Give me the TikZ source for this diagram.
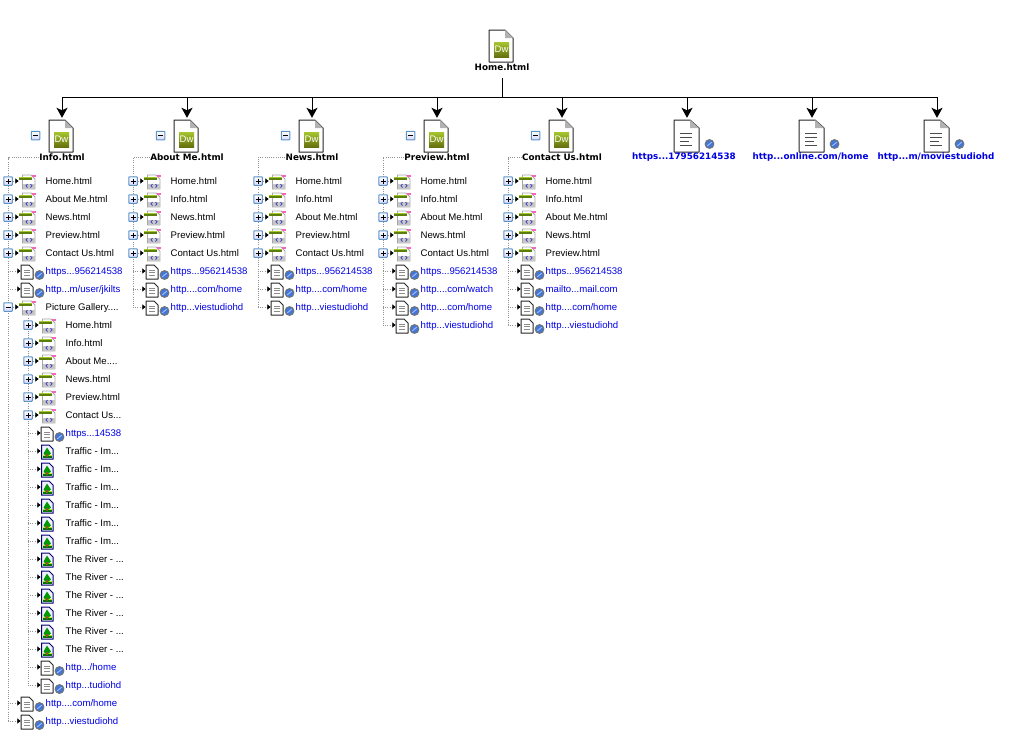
\documentclass[tikz,border=0pt]{standalone}
\usepackage{fontspec}
\setmainfont{Liberation Sans}
\newfontfamily\titlefont{DejaVu Sans}
\usetikzlibrary{arrows.meta, positioning}

\definecolor{linkblue}{HTML}{0000E6}
\definecolor{boxblue}{HTML}{5C94C8}
\definecolor{dwlight}{HTML}{A6C62E}
\definecolor{dwdark}{HTML}{66700E}
\definecolor{globeblue}{HTML}{3F78D8}

\tikzset{
  link/.style={draw=black, line width=1pt, -{Stealth[length=10pt,width=11pt,inset=2.5pt]}},
  stem/.style={draw=black, line width=1pt},
  treeline/.style={draw=gray!85, line width=0.9pt, dash pattern=on 1pt off 1.2pt},
  stub/.style={treeline, -{Latex[length=3.5pt,width=6pt,black]}},
  treebox/.style={draw=boxblue, line width=1pt, rounded corners=0.6pt, top color=white, bottom color=blue!15, inner sep=0pt, minimum size=8.5pt},
  bigpage/.style={inner sep=0pt, minimum width=25pt, minimum height=36pt},
  smallpage/.style={inner sep=0pt, minimum width=12pt, minimum height=14pt},
  pagetitle/.style={inner sep=0pt, font=\titlefont\bfseries\fontsize{8.8}{11}\selectfont},
  webtitle/.style={pagetitle, text=linkblue},
  rowlabel/.style={anchor=base west, inner sep=0pt, font=\fontsize{9.6}{12}\selectfont},
  weblabel/.style={rowlabel, text=linkblue},
  sheet/.style={draw=black!85, line width=1pt, fill=white, line join=round},
  % Icons
  treeplus/.pic={\draw[black, line width=1pt] (-2.5,0) -- (2.5,0) (0,-2.5) -- (0,2.5);},
  treeminus/.pic={\draw[black, line width=1pt] (-2.5,0) -- (2.5,0);},
  globe/.pic={
    \draw[draw=black!55, fill=globeblue, line width=1pt] (0,0) circle (4.4);
    \draw[white!75!blue, line width=0.8pt] (-2.2,1.8) .. controls (-0.5,0.5) and (0.5,-0.5) .. (2.2,-1.8);
  },
  dwicon/.pic={
    \draw[sheet] (-13,-16) -- (3,-16) -- (11,-8) -- (11,16) -- (-13,16) -- cycle;
    \fill[black!30] (3,-16) -- (3,-8) -- (11,-8) -- cycle;
    \shade[top color=dwlight, bottom color=dwdark] (-8,-4) rectangle (7,11);
    \node[text=white, inner sep=0pt, font=\fontsize{9.5}{10}\selectfont] (-dw) at (-0.5,3.5) {Dw};
  },
  webicon/.pic={
    \draw[sheet] (-13,-16) -- (3,-16) -- (12,-8) -- (12,16) -- (-13,16) -- cycle;
    \fill[black!30] (3,-16) -- (3,-8) -- (12,-8) -- cycle;
    \draw[black!70, line width=0.9pt] (-7,-3) -- (5,-3) (-7,1) -- (5,1) (-7,5) -- (2,5) (-7,9) -- (5,9);
  },
  htmlicon/.pic={
    \draw[black!35, line width=0.9pt, fill=white] (-3.5,-6) -- (5,-6) -- (9,-2) -- (9,8) -- (-3.5,8) -- cycle;
    \fill[black!22] (-3,2.5) rectangle (8.5,7.5);
    \fill[magenta!60] (6,-6.5) rectangle (9.5,-4);
    \draw[blue!50!gray, line width=0.8pt] (1.5,3) -- (0,4.8) -- (1.5,6.5) (4.5,3) -- (6,4.8) -- (4.5,6.5);
    \fill[dwdark!90!green] (-7,-4.5) rectangle (6,-1.4);
    \fill[dwlight] (-7,-4.5) rectangle (6,-3.3);
  },
  pageicon/.pic={
    \draw[sheet] (-6,-6) -- (2,-6) -- (6,-2) -- (6,8) -- (-6,8) -- cycle;
    \draw[black!45, line width=0.8pt] (-3,-1) -- (3,-1) (-3,1.5) -- (3,1.5) (-3,4) -- (3,4);
  },
  imageicon/.pic={
    \draw[blue!45!black, line width=1pt, fill=blue!6] (-5.5,-6) -- (2,-6) -- (6,-2) -- (6,8) -- (-5.5,8) -- cycle;
    \fill[yellow!80!green] (-4.5,3.5) rectangle (5,7);
    \fill[green!60!black] (-3.5,2.5) -- (0,-3.5) -- (4,2.5) -- (1.5,4.5) -- (-1.5,4.5) -- cycle;
    \fill[green!45!black] (-4.5,7) -- (5,7) -- (5,5) -- (-4.5,5) -- cycle;
    \fill[brown!70!black] (-1,3) rectangle (1,6);
  },
}

% big pages of the top level
\newcommand{\dwpage}[5]{
  \node[bigpage] (#1) at (#2,#3) {};
  \pic (#1i) at (#1) {dwicon};
  \node[pagetitle] (#1t) at (#4,#3+21.5) {#5};
}
\newcommand{\webpage}[5]{
  \node[bigpage] (#1) at (#2,#3) {};
  \pic (#1i) at (#1) {webicon};
  \pic (#1g) at (#2+22.5,#3+8) {globe};
  \node[webtitle] (#1t) at (#4,#3+21.5) {#5};
}
% tree rows: name, trunk x, row y, label
\newcommand{\htmlrow}[5][treeplus]{
  \node[treebox] (#2b) at (#3,#4) {};
  \pic (#2s) at (#2b) {#1};
  \node[smallpage] (#2) at (#3+17,#4) {};
  \draw[stub] (#2b) -- (#2);
  \pic (#2i) at (#3+18,#4) {htmlicon};
  \node[rowlabel] (#2l) at (#3+37.5,#4+3.8) {#5};
}
\newcommand{\webrow}[4]{
  \coordinate (#1c) at (#2,#3);
  \node[smallpage] (#1) at (#2+19,#3) {};
  \draw[stub] (#1c) -- (#1);
  \pic (#1i) at (#1) {pageicon};
  \pic (#1g) at (#2+31.5,#3+4) {globe};
  \node[weblabel] (#1l) at (#2+37.5,#3+3.8) {#4};
}
\newcommand{\imagerow}[4]{
  \coordinate (#1c) at (#2,#3);
  \node[smallpage] (#1) at (#2+19,#3) {};
  \draw[stub] (#1c) -- (#1);
  \pic (#1i) at (#1) {imageicon};
  \node[rowlabel] (#1l) at (#2+37.5,#3+3.8) {#4};
}

\begin{document}
\begin{tikzpicture}[x=1pt,y=-1pt]
   \useasboundingbox (0,0) rectangle (1024,740);

   % Top level
      \node[bigpage] (home) at (502,46) {};
      \pic (homei) at (home) {dwicon};
      \node[pagetitle] (homet) at (502,67.5) {Home.html};
      \coordinate (hub) at (502,97);
      \dwpage{info}{62}{136}{62}{Info.html}
      \dwpage{about}{187}{136}{187}{About Me.html}
      \dwpage{news}{312}{136}{312}{News.html}
      \dwpage{prev}{437}{136}{437}{Preview.html}
      \dwpage{cont}{562}{136}{562}{Contact Us.html}
      \webpage{tw}{687}{136}{684}{https...17956214538}
      \webpage{on}{812}{136}{810.5}{http...online.com/home}
      \webpage{mv}{937}{136}{936}{http...m/moviestudiohd}

   % Paths
      \draw[stem, shorten <=7pt] (homet.south -| hub) -- (hub);
      \draw[stem] (info |- hub) -- (mv |- hub);
      \draw[link] (info |- hub) -- (info);
      \draw[link] (about |- hub) -- (about);
      \draw[link] (news |- hub) -- (news);
      \draw[link] (prev |- hub) -- (prev);
      \draw[link] (cont |- hub) -- (cont);
      \draw[link] (tw |- hub) -- (tw);
      \draw[link] (on |- hub) -- (on);
      \draw[link] (mv |- hub) -- (mv);

   % Trunks
      \coordinate (infoend) at (8,721);
      \coordinate (aboutend) at (133,307);
      \coordinate (newsend) at (258,307);
      \coordinate (prevend) at (383,325);
      \coordinate (contend) at (508,325);
      \coordinate (galend) at (28,685);
      \draw[treeline] (infot.west) -| (infoend);
      \draw[treeline] (aboutt.west) -| (aboutend);
      \draw[treeline] (newst.west) -| (newsend);
      \draw[treeline] (prevt.west) -| (prevend);
      \draw[treeline] (contt.west) -| (contend);
      \coordinate (galstart) at (28,311);
      \draw[treeline] (galstart) -- (galend);

   % Collapse boxes
      \node[treebox] (infom) at (35.5,135.5) {};  \pic (infon) at (infom) {treeminus};
      \node[treebox] (aboutm) at (160.5,135.5) {}; \pic (aboutn) at (aboutm) {treeminus};
      \node[treebox] (newsm) at (285.5,135.5) {};  \pic (newsn) at (newsm) {treeminus};
      \node[treebox] (prevm) at (410.5,135.5) {};  \pic (prevn) at (prevm) {treeminus};
      \node[treebox] (contm) at (535.5,135.5) {};  \pic (contn) at (contm) {treeminus};

   % Info.html
      \htmlrow{a1}{8}{181}{Home.html}
      \htmlrow{a2}{8}{199}{About Me.html}
      \htmlrow{a3}{8}{217}{News.html}
      \htmlrow{a4}{8}{235}{Preview.html}
      \htmlrow{a5}{8}{253}{Contact Us.html}
      \webrow{a6}{8}{271}{https...956214538}
      \webrow{a7}{8}{289}{http...m/user/jkilts}
      \htmlrow[treeminus]{a8}{8}{307}{Picture Gallery....}
      \webrow{a9}{8}{703}{http....com/home}
      \webrow{a10}{8}{721}{http...viestudiohd}

   % Picture Gallery
      \htmlrow{g1}{28}{325}{Home.html}
      \htmlrow{g2}{28}{343}{Info.html}
      \htmlrow{g3}{28}{361}{About Me....}
      \htmlrow{g4}{28}{379}{News.html}
      \htmlrow{g5}{28}{397}{Preview.html}
      \htmlrow{g6}{28}{415}{Contact Us...}
      \webrow{g7}{28}{433}{https...14538}
      \imagerow{g8}{28}{451}{Traffic - Im...}
      \imagerow{g9}{28}{469}{Traffic - Im...}
      \imagerow{g10}{28}{487}{Traffic - Im...}
      \imagerow{g11}{28}{505}{Traffic - Im...}
      \imagerow{g12}{28}{523}{Traffic - Im...}
      \imagerow{g13}{28}{541}{Traffic - Im...}
      \imagerow{g14}{28}{559}{The River - ...}
      \imagerow{g15}{28}{577}{The River - ...}
      \imagerow{g16}{28}{595}{The River - ...}
      \imagerow{g17}{28}{613}{The River - ...}
      \imagerow{g18}{28}{631}{The River - ...}
      \imagerow{g19}{28}{649}{The River - ...}
      \webrow{g20}{28}{667}{http.../home}
      \webrow{g21}{28}{685}{http...tudiohd}

   % About Me.html
      \htmlrow{b1}{133}{181}{Home.html}
      \htmlrow{b2}{133}{199}{Info.html}
      \htmlrow{b3}{133}{217}{News.html}
      \htmlrow{b4}{133}{235}{Preview.html}
      \htmlrow{b5}{133}{253}{Contact Us.html}
      \webrow{b6}{133}{271}{https...956214538}
      \webrow{b7}{133}{289}{http....com/home}
      \webrow{b8}{133}{307}{http...viestudiohd}

   % News.html
      \htmlrow{c1}{258}{181}{Home.html}
      \htmlrow{c2}{258}{199}{Info.html}
      \htmlrow{c3}{258}{217}{About Me.html}
      \htmlrow{c4}{258}{235}{Preview.html}
      \htmlrow{c5}{258}{253}{Contact Us.html}
      \webrow{c6}{258}{271}{https...956214538}
      \webrow{c7}{258}{289}{http....com/home}
      \webrow{c8}{258}{307}{http...viestudiohd}

   % Preview.html
      \htmlrow{d1}{383}{181}{Home.html}
      \htmlrow{d2}{383}{199}{Info.html}
      \htmlrow{d3}{383}{217}{About Me.html}
      \htmlrow{d4}{383}{235}{News.html}
      \htmlrow{d5}{383}{253}{Contact Us.html}
      \webrow{d6}{383}{271}{https...956214538}
      \webrow{d7}{383}{289}{http....com/watch}
      \webrow{d8}{383}{307}{http....com/home}
      \webrow{d9}{383}{325}{http...viestudiohd}

   % Contact Us.html
      \htmlrow{e1}{508}{181}{Home.html}
      \htmlrow{e2}{508}{199}{Info.html}
      \htmlrow{e3}{508}{217}{About Me.html}
      \htmlrow{e4}{508}{235}{News.html}
      \htmlrow{e5}{508}{253}{Preview.html}
      \webrow{e6}{508}{271}{https...956214538}
      \webrow{e7}{508}{289}{mailto...mail.com}
      \webrow{e8}{508}{307}{http....com/home}
      \webrow{e9}{508}{325}{http...viestudiohd}
\end{tikzpicture}
\end{document}
